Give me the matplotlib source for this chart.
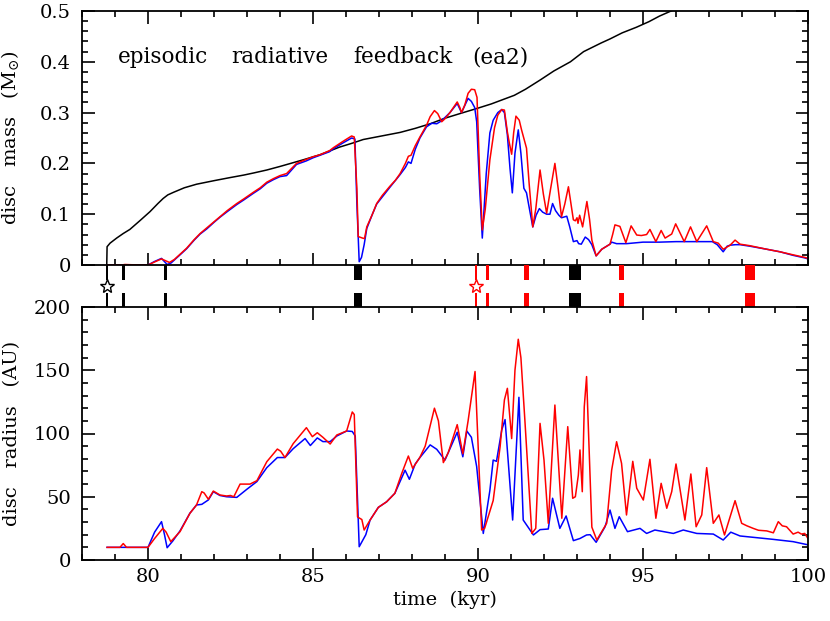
import matplotlib
matplotlib.use("Agg")
import matplotlib.pyplot as plt
from matplotlib.ticker import MultipleLocator, FixedLocator, FixedFormatter

plt.rcParams['font.family'] = ['DejaVu Serif']
plt.rcParams['mathtext.fontset'] = 'dejavuserif'

# ---------------- data ----------------
star_mass_t = [78.75, 78.76, 78.85, 79.05, 79.25, 79.45, 79.75, 80.06, 80.3, 80.46, 80.6, 80.77,
               81.1, 81.47, 82.0, 82.48, 82.9, 83.19, 83.6, 84.0, 84.7, 85.21, 85.8, 86.2, 86.52,
               87.0, 87.64, 88.1, 88.55, 89.0, 89.5, 89.96, 90.4, 90.77, 91.1, 91.44, 91.88, 92.3,
               92.8, 93.2, 93.73, 94.0, 94.37, 94.8, 95.18, 95.5, 95.85, 96.2]
star_mass = [0.0, 0.036, 0.043, 0.053, 0.062, 0.070, 0.087, 0.105, 0.121, 0.131, 0.138, 0.143,
             0.152, 0.159, 0.166, 0.172, 0.177, 0.181, 0.187, 0.194, 0.207, 0.217, 0.232, 0.240, 0.247,
             0.253, 0.261, 0.269, 0.278, 0.289, 0.299, 0.308, 0.317, 0.326, 0.334, 0.346, 0.364, 0.382,
             0.400, 0.420, 0.437, 0.445, 0.457, 0.468, 0.479, 0.490, 0.500, 0.510]

mass_red_t = [78.76, 79.2, 79.3, 79.5, 80.0, 80.2, 80.41, 80.55, 80.65, 80.8, 80.97, 81.17, 81.4,
              81.58, 81.78, 82.0, 82.18, 82.4, 82.69, 82.9, 83.19, 83.4, 83.6, 83.8, 84.0, 84.2,
              84.35, 84.5, 84.8, 85.0, 85.21, 85.5, 85.62, 85.9, 86.17, 86.25, 86.33, 86.37, 86.5,
              86.56, 86.63, 86.8, 86.93, 87.1, 87.33, 87.5, 87.64, 87.8, 87.89, 87.97, 88.1, 88.24,
              88.44, 88.55, 88.68, 88.78, 88.9, 89.0, 89.15, 89.37, 89.45, 89.5, 89.6, 89.7, 89.8,
              89.9, 89.97, 90.05, 90.13, 90.22, 90.36, 90.5, 90.6, 90.72, 90.8, 90.89, 90.95, 91.02,
              91.08, 91.15, 91.25, 91.32, 91.47, 91.55, 91.66, 91.75, 91.88, 91.98, 92.08, 92.2,
              92.33, 92.43, 92.53, 92.63, 92.74, 92.82, 92.89, 92.95, 93.0, 93.03, 93.08, 93.17,
              93.3, 93.38, 93.45, 93.58, 93.75, 94.0, 94.08, 94.15, 94.3, 94.48, 94.64, 94.81,
              94.95, 95.11, 95.21, 95.39, 95.55, 95.67, 95.87, 95.99, 96.25, 96.44, 96.63, 96.93,
              97.13, 97.28, 97.43, 97.64, 97.79, 97.94, 98.24, 98.75, 99.15, 99.55, 99.9, 100.0]
mass_red = [0.0, 0.0, 0.001, 0.0005, 0.0, 0.006, 0.012, 0.008, 0.005, 0.011, 0.021, 0.033, 0.05,
            0.062, 0.073, 0.085, 0.095, 0.107, 0.121, 0.13, 0.143, 0.152, 0.163, 0.17, 0.176, 0.18,
            0.19, 0.2, 0.208, 0.213, 0.217, 0.225, 0.231, 0.243, 0.254, 0.252, 0.15, 0.056, 0.053,
            0.052, 0.075, 0.1, 0.121, 0.137, 0.155, 0.167, 0.18, 0.2, 0.214, 0.216, 0.235, 0.252,
            0.275, 0.292, 0.304, 0.298, 0.282, 0.288, 0.3, 0.321, 0.31, 0.3, 0.315, 0.338, 0.346,
            0.345, 0.33, 0.18, 0.069, 0.11, 0.207, 0.27, 0.295, 0.306, 0.305, 0.262, 0.24, 0.218,
            0.26, 0.293, 0.285, 0.266, 0.23, 0.16, 0.075, 0.11, 0.187, 0.14, 0.102, 0.15,
            0.2, 0.15, 0.095, 0.12, 0.154, 0.12, 0.089, 0.087, 0.093, 0.082, 0.098, 0.075,
            0.125, 0.09, 0.049, 0.018, 0.031, 0.041, 0.06, 0.079, 0.076, 0.044, 0.077, 0.059,
            0.058, 0.06, 0.07, 0.046, 0.068, 0.053, 0.061, 0.081, 0.046, 0.075, 0.046, 0.077,
            0.046, 0.043, 0.031, 0.039, 0.049, 0.041, 0.038, 0.031, 0.026, 0.02, 0.015, 0.013]

mass_blue_t = [78.76, 80.0, 80.2, 80.41, 80.58, 80.7, 80.97, 81.17, 81.4, 81.58, 81.78, 82.0, 82.18,
               82.4, 82.69, 82.9, 83.19, 83.4, 83.6, 83.8, 84.0, 84.2, 84.35, 84.5, 84.8, 85.0,
               85.21, 85.5, 85.62, 85.9, 86.17, 86.27, 86.33, 86.4, 86.47, 86.55, 86.63, 86.8,
               86.93, 87.33, 87.64, 87.8, 87.89, 87.97, 88.1, 88.24, 88.44, 88.6, 88.75, 88.9, 89.15,
               89.37, 89.5, 89.7, 89.8, 89.9, 89.96, 90.05, 90.13, 90.25, 90.36, 90.46, 90.6, 90.72,
               90.8, 90.89, 90.97, 91.04, 91.12, 91.22, 91.3, 91.39, 91.47, 91.56, 91.66, 91.76,
               91.86, 91.96, 92.08, 92.18, 92.26, 92.35, 92.45, 92.53, 92.69, 92.78, 92.89, 93.0,
               93.05, 93.13, 93.25, 93.35, 93.45, 93.58, 93.75, 94.0, 94.05, 94.2, 94.5, 95.0, 95.5,
               96.0, 96.5, 97.1, 97.25, 97.43, 97.55, 97.64, 97.8, 97.94, 98.24, 98.75, 99.15,
               99.55, 99.9, 100.0]
mass_blue = [0.0, 0.0, 0.007, 0.013, 0.001, 0.004, 0.02, 0.032, 0.049, 0.061, 0.071, 0.084, 0.094,
             0.105, 0.119, 0.128, 0.141, 0.15, 0.161, 0.168, 0.174, 0.176, 0.187, 0.198, 0.205, 0.211,
             0.216, 0.223, 0.229, 0.24, 0.25, 0.248, 0.12, 0.0065, 0.015, 0.04, 0.072, 0.1,
             0.12, 0.153, 0.178, 0.192, 0.203, 0.2, 0.228, 0.25, 0.272, 0.279, 0.278, 0.284, 0.3,
             0.318, 0.3, 0.328, 0.322, 0.31, 0.282, 0.15, 0.053, 0.18, 0.26, 0.285, 0.3, 0.306,
             0.3, 0.256, 0.19, 0.142, 0.22, 0.266, 0.22, 0.151, 0.142, 0.11, 0.075, 0.098,
             0.111, 0.104, 0.1, 0.1, 0.121, 0.107, 0.098, 0.093, 0.096, 0.075, 0.046, 0.048,
             0.042, 0.041, 0.055, 0.05, 0.04, 0.018, 0.031, 0.041, 0.045, 0.042, 0.042, 0.045, 0.045,
             0.046, 0.046, 0.046, 0.04, 0.026, 0.037, 0.039, 0.04, 0.04, 0.037, 0.031, 0.026,
             0.019, 0.014, 0.012]

rad_red_t = [78.76, 79.15, 79.25, 79.35, 80.0, 80.2, 80.45, 80.55, 80.69, 80.97, 81.27, 81.47, 81.63,
             81.7, 81.83, 81.98, 82.18, 82.38, 82.5, 82.6, 82.79, 83.09, 83.3, 83.6, 83.92, 84.02,
             84.15, 84.4, 84.8, 84.98, 85.13, 85.3, 85.52, 85.72, 86.02, 86.19, 86.25, 86.35, 86.48,
             86.55, 86.73, 86.98, 87.23, 87.48, 87.69, 87.89, 88.02, 88.24, 88.4, 88.68, 88.8, 88.95,
             89.1, 89.37, 89.54, 89.7, 89.91, 90.11, 90.2, 90.46, 90.67, 90.8, 90.89, 91.02, 91.12,
             91.22, 91.3, 91.42, 91.63, 91.75, 91.88, 92.0, 92.13, 92.33, 92.54, 92.72, 92.87, 92.95,
             93.04, 93.09, 93.16, 93.22, 93.29, 93.45, 93.6, 93.9, 94.05, 94.2, 94.35, 94.5, 94.69,
             94.81, 95.01, 95.21, 95.39, 95.55, 95.72, 95.87, 96.0, 96.27, 96.45, 96.61, 96.78, 96.93,
             97.13, 97.3, 97.47, 97.79, 97.99, 98.15, 98.34, 98.5, 98.75, 98.95, 99.1, 99.22, 99.35,
             99.55, 99.7, 99.8, 99.9, 100.0]
rad_red = [10, 10, 13, 10, 10, 17, 25, 22, 14.5, 22.4, 36.9, 43.5, 54,
           53, 48, 54.5, 51.4, 50.6, 51, 50, 60, 60, 62.7, 77.7, 87.7, 86,
           81, 92, 104.6, 97.5, 100.6, 97, 91.7, 98.8, 102, 117, 115, 34, 32,
           23.7, 31.6, 41.6, 46, 52.7, 68.5, 82.2, 72.5, 81.2, 90, 120, 110, 77,
           85, 107, 84, 110, 149, 23.7, 25, 47, 89.6, 126.5, 135.7, 96, 150,
           174.5, 160, 110.7, 21, 25, 108, 79, 29, 122.5, 33, 105.4, 48.8, 50,
           67, 87, 54, 121, 145, 26, 15.8, 29, 71, 93.5, 76.4, 35.6, 78,
           56.7, 47.4, 79.6, 33, 60.6, 40.9, 54, 75.9, 31.6, 68, 26.3, 35.6, 73,
           29, 35.6, 19.8, 46.9, 29, 27, 25, 23.5, 23, 21.5, 30.3, 27, 26.3,
           20.5, 22, 20.5, 21, 17]

rad_blue_t = [78.76, 80.0, 80.2, 80.41, 80.5, 80.58, 80.75, 80.97, 81.27, 81.47, 81.63, 81.83, 81.98,
              82.18, 82.38, 82.69, 83.0, 83.3, 83.6, 83.92, 84.15, 84.4, 84.76, 84.92, 85.13, 85.3,
              85.52, 85.72, 86.02, 86.19, 86.28, 86.4, 86.6, 86.73, 86.98, 87.23, 87.48, 87.79, 87.92,
              88.1, 88.24, 88.55, 88.75, 89.0, 89.37, 89.54, 89.66, 89.8, 89.96, 90.16, 90.36, 90.46,
              90.56, 90.72, 90.82, 91.05, 91.24, 91.37, 91.68, 91.88, 92.13, 92.26, 92.48, 92.67,
              92.89, 93.09, 93.29, 93.4, 93.58, 93.85, 94.0, 94.15, 94.28, 94.53, 94.91, 95.11, 95.36,
              95.92, 96.22, 96.63, 97.13, 97.43, 97.66, 97.94, 98.95, 99.55, 100.0]
rad_blue = [10, 10, 22, 30.3, 20, 9.7, 15, 23, 37, 43.5, 44, 47.5, 54,
            51, 50, 49.5, 56, 62, 73, 81, 81, 88, 96, 90.5, 96.5, 93.6,
            93.6, 98, 102, 101.6, 98, 10.5, 20, 31.6, 41.6, 46, 52.7, 71, 63.8,
            76, 81, 91, 87.5, 79, 101, 81.6, 102, 97, 73.8, 21, 55, 79,
            78, 102.8, 111, 31.6, 128.6, 31.6, 19.8, 24, 24.5, 48.8, 25, 34.8,
            15.3, 17, 19.8, 20, 14, 26.3, 39.5, 25, 34.2, 22.4, 25, 21, 23.7,
            21, 23.7, 21, 20.5, 15.8, 22, 19, 16.3, 14.5, 12]

# episodic events (centre time, duration, colour)
event_t = [78.76, 79.25, 80.53, 86.36, 89.93, 90.28, 91.47, 92.95, 94.35, 98.24]
event_w = [0.06, 0.09, 0.12, 0.25, 0.06, 0.09, 0.15, 0.36, 0.13, 0.29]
event_c = ['black', 'black', 'black', 'black', 'red', 'red', 'red', 'black', 'red', 'red']
star_t = [78.76, 89.93]
star_c = ['black', 'red']

mass_ticks = [0, 0.1, 0.2, 0.3, 0.4, 0.5]
mass_labels = ['0', '0.1', '0.2', '0.3', '0.4', '0.5']
rad_ticks = [0, 50, 100, 150, 200]
time_ticks = [80, 85, 90, 95, 100]

title_words = ['episodic', 'radiative', 'feedback', '(ea2)']
title_word_t = [79.09, 82.52, 86.21, 89.82]

# ---------------- figure ----------------
W, H = 830, 621
fig = plt.figure(figsize=(W / 100, H / 100), dpi=100)
L, R = 82, 808
ax1 = fig.add_axes([L / W, 1 - 265 / H, (R - L) / W, (265 - 11) / H])
axs = fig.add_axes([L / W, 1 - 307 / H, (R - L) / W, 42 / H])
ax2 = fig.add_axes([L / W, 1 - 560 / H, (R - L) / W, (560 - 307) / H])

lw = 1.1
ax1.plot(star_mass_t, star_mass, color='black', lw=lw)
ax1.plot(mass_blue_t, mass_blue, color='blue', lw=lw)
ax1.plot(mass_red_t, mass_red, color='red', lw=lw)
ax2.plot(rad_blue_t, rad_blue, color='blue', lw=lw)
ax2.plot(rad_red_t, rad_red, color='red', lw=lw)

fs = 14
for ax in (ax1, ax2):
    ax.set_xlim(78, 100)
    ax.xaxis.set_major_locator(FixedLocator(time_ticks))
    ax.xaxis.set_minor_locator(MultipleLocator(1))
    ax.tick_params(which='both', direction='in', top=True, right=True, width=1.2,
                   labelsize=fs, pad=8)
    ax.tick_params(which='major', length=9)
    ax.tick_params(which='minor', length=4)
    for s in ax.spines.values():
        s.set_linewidth(1.3)

ax1.set_ylim(0, 0.5)
ax1.yaxis.set_major_locator(FixedLocator(mass_ticks))
ax1.yaxis.set_major_formatter(FixedFormatter(mass_labels))
ax1.yaxis.set_minor_locator(MultipleLocator(0.02))
ax1.tick_params(axis='x', labelbottom=False)
ax1.set_ylabel(r'disc   mass   (M$_{\odot}$)', fontsize=fs)
ax1.yaxis.set_label_coords(-0.084, 0.5)
for w, t in zip(title_words, title_word_t):
    ax1.text(t, 0.4094, w, fontsize=15.5, va='center', ha='left')

ax2.set_ylim(0, 200)
ax2.yaxis.set_major_locator(FixedLocator(rad_ticks))
ax2.yaxis.set_minor_locator(MultipleLocator(10))
ax2.set_ylabel('disc   radius   (AU)', fontsize=fs)
ax2.yaxis.set_label_coords(-0.084, 0.5)
ax2.tick_params(axis='x', pad=6)
ax2.set_xlabel('time  (kyr)', fontsize=fs, labelpad=3)

# event strip
axs.set_xlim(78, 100)
axs.set_ylim(0, 1)
axs.axis('off')
axs.bar(event_t, 0.36, width=event_w, bottom=0.64, color=event_c, linewidth=0)
axs.bar(event_t, 0.34, width=event_w, bottom=0.0, color=event_c, linewidth=0)
for t, c in zip(star_t, star_c):
    axs.plot([t], [0.5], marker='*', ms=10, mfc='white', mec=c, mew=1.0, linestyle='none')

fig.savefig('out.png', dpi=100)
